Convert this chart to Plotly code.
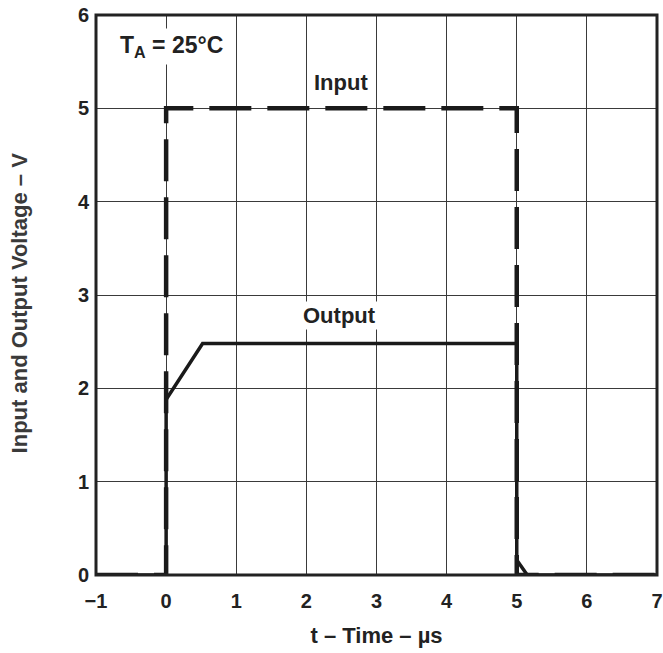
import plotly.graph_objects as go

# Data
input_t = [-1, 0, 0, 5, 5, 7]
input_v = [0, 0, 5, 5, 0, 0]
output_t = [-1, 0, 0, 0.52, 5, 5, 5.15, 7]
output_v = [0, 0, 1.88, 2.48, 2.48, 0.16, 0, 0]
x_ticks = [-1, 0, 1, 2, 3, 4, 5, 6, 7]
x_tick_labels = ["\u22121", "0", "1", "2", "3", "4", "5", "6", "7"]
y_ticks = [0, 1, 2, 3, 4, 5, 6]
y_tick_labels = ["0", "1", "2", "3", "4", "5", "6"]

fig = go.Figure()
fig.add_trace(go.Scatter(x=output_t, y=output_v, mode="lines",
                         line=dict(color="#1a1a1a", width=3.5),
                         showlegend=False))
fig.add_trace(go.Scatter(x=input_t, y=input_v, mode="lines",
                         line=dict(color="#1a1a1a", width=4.5, dash="42px,16px"),
                         showlegend=False))

font_main = "Liberation Sans, Arial, sans-serif"
fig.add_annotation(x=-0.72, y=5.66, xanchor="left", yanchor="middle",
                   text="T<sub>A</sub> = 25°C", showarrow=False,
                   font=dict(family=font_main, size=23, color="#222", weight="bold"),
                   bgcolor="white", borderpad=3)
fig.add_annotation(x=2.5, y=5.28, xanchor="center", yanchor="middle",
                   text="Input", showarrow=False,
                   font=dict(family=font_main, size=22, color="#222", weight="bold"),
                   bgcolor="white", borderpad=2)
fig.add_annotation(x=2.47, y=2.78, xanchor="center", yanchor="middle",
                   text="Output", showarrow=False,
                   font=dict(family=font_main, size=22, color="#222", weight="bold"),
                   bgcolor="white", borderpad=1)
# Y axis title
fig.add_annotation(xref="paper", x=0, xshift=-77, xanchor="center",
                   yref="y", y=2.91, yanchor="middle", textangle=-90,
                   text="Input and Output Voltage – V", showarrow=False,
                   font=dict(family=font_main, size=22, color="#3a3a3a", weight="bold"))

# Frame
fig.add_shape(type="rect", xref="paper", yref="paper", x0=0, y0=0, x1=1, y1=1,
              line=dict(color="#222", width=3), layer="above")

fig.update_layout(
    width=663, height=653,
    margin=dict(l=96, r=6, t=15, b=78),
    paper_bgcolor="white", plot_bgcolor="white",
    font=dict(family=font_main, color="#222"),
)
fig.update_xaxes(range=[-1, 7], tickvals=x_ticks, ticktext=x_tick_labels,
                 automargin=False,
                 showgrid=True, gridcolor="#3a3a3a", gridwidth=1,
                 showline=False, zeroline=False, ticks="", ticklabelstandoff=12,
                 tickfont=dict(size=20, family=font_main, color="#222", weight="bold"),
                 title=dict(text="t – Time – µs", standoff=16,
                            font=dict(size=22, family=font_main, color="#222", weight="bold")))
fig.update_yaxes(range=[0, 6], tickvals=y_ticks, ticktext=y_tick_labels,
                 automargin=False,
                 showgrid=True, gridcolor="#3a3a3a", gridwidth=1,
                 showline=False, zeroline=False, ticks="", ticklabelstandoff=6,
                 tickfont=dict(size=20, family=font_main, color="#222", weight="bold"))

fig.write_html("out.html", config={"displayModeBar": False},
               post_script="document.body.style.margin='0';")
